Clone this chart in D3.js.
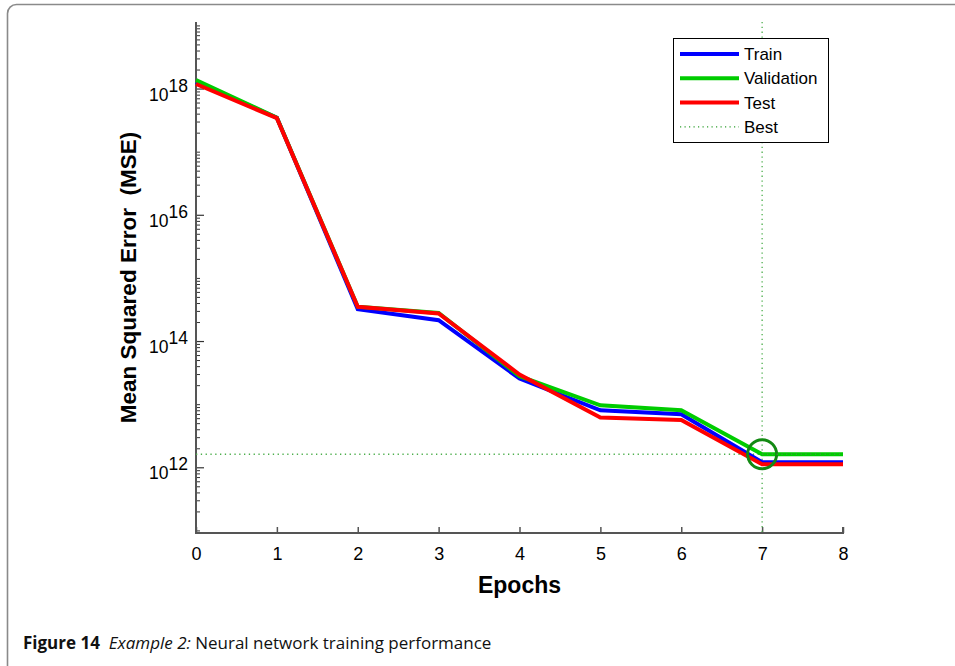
<!DOCTYPE html>
<html>
<head>
<meta charset="utf-8">
<script src="https://cdn.jsdelivr.net/npm/d3@7"></script>
<style>
  html, body { margin: 0; padding: 0; background: #fff; }
  svg { display: block; }
</style>
</head>
<body>
<svg id="chart" width="955" height="666"></svg>
<script>
// values
const epochs = [0, 1, 2, 3, 4, 5, 6, 7, 8];
const trainMSE = [1.27e18, 3.45e17, 3.2e14, 2.14e14, 2.55e13, 8.0e12, 6.9e12, 1.2e12, 1.2e12];
const validationMSE = [1.36e18, 3.45e17, 3.5e14, 2.78e14, 2.78e13, 9.6e12, 8.0e12, 1.61e12, 1.61e12];
const testMSE = [1.18e18, 3.4e17, 3.48e14, 2.74e14, 2.95e13, 6.15e12, 5.6e12, 1.12e12, 1.12e12];
const bestEpoch = 7;
const bestValue = 1.61e12;
const yTickLabels = [12, 14, 16, 18];
const legendNames = ['Train', 'Validation', 'Test', 'Best'];

const svg = d3.select('#chart');
const plotL = 196, plotR = 843, plotT = 22, plotB = 533;

// outer figure frame (rounded, runs off the right and bottom edges)
svg.append('rect')
  .attr('x', 7.5).attr('y', 4.5)
  .attr('width', 990).attr('height', 700)
  .attr('rx', 9)
  .attr('fill', 'none')
  .attr('stroke', '#8a8a8a')
  .attr('stroke-width', 1.6);

const x = d3.scaleLinear().domain([0, 8]).range([plotL, plotR]);
const y = d3.scaleLog()
  .domain([Math.pow(10, 10.959), Math.pow(10, 19.054)])
  .range([plotB, plotT]);

const g = svg.append('g');

// minor log ticks (inward)
const minorVals = [];
for (let e = 10; e <= 19; e++) {
  for (let m = 1; m <= 9; m++) {
    const v = m * Math.pow(10, e);
    if (v >= y.domain()[0] && v <= y.domain()[1] && !(m === 1 && e % 2 === 0)) minorVals.push(v);
  }
}
g.append('g')
  .attr('transform', `translate(${plotL},0)`)
  .call(d3.axisLeft(y).tickValues(minorVals).tickSize(-4).tickFormat(''))
  .call(a => a.select('.domain').remove())
  .selectAll('line').attr('stroke', '#333').attr('stroke-width', 1);

// major ticks at labelled decades
const majorAxis = g.append('g')
  .attr('transform', `translate(${plotL},0)`)
  .call(d3.axisLeft(y).tickValues(yTickLabels.map(p => Math.pow(10, p))).tickSize(-8).tickFormat(''));
majorAxis.select('.domain').remove();
majorAxis.selectAll('line').attr('stroke', '#333').attr('stroke-width', 1.2);

// y tick labels with superscripts
const yLab = g.append('g').attr('font-family', 'Liberation Sans, Arial, sans-serif').attr('font-size', 17.5);
yTickLabels.forEach(p => {
  const t = yLab.append('text')
    .attr('x', plotL - 8)
    .attr('y', y(Math.pow(10, p)) + 12)
    .attr('text-anchor', 'end')
    .attr('fill', '#000');
  t.append('tspan').text('10');
  t.append('tspan').attr('dy', -9).text(p);
});

// x axis ticks (inward)
const xAxis = g.append('g')
  .attr('transform', `translate(0,${plotB})`)
  .call(d3.axisBottom(x).tickValues(epochs).tickSize(-6).tickPadding(14).tickFormat(d3.format('d')));
xAxis.select('.domain').remove();
xAxis.selectAll('line').attr('stroke', '#555').attr('stroke-width', 1.5);
xAxis.selectAll('text')
  .attr('font-family', 'Liberation Sans, Arial, sans-serif')
  .attr('font-size', 18)
  .attr('fill', '#000');

// axis spines (no box)
g.append('path')
  .attr('d', `M${plotL},${plotT}V${plotB}H${plotR}V${plotB - 6}`)
  .attr('fill', 'none')
  .attr('stroke', '#555')
  .attr('stroke-width', 2);

// best markers
g.append('line')
  .attr('x1', x(bestEpoch)).attr('x2', x(bestEpoch))
  .attr('y1', plotT).attr('y2', plotB)
  .attr('stroke', '#4cae4c').attr('stroke-width', 1.3)
  .attr('stroke-dasharray', '1.3,3.5');
g.append('line')
  .attr('x1', plotL).attr('x2', plotR)
  .attr('y1', y(bestValue)).attr('y2', y(bestValue))
  .attr('stroke', '#4cae4c').attr('stroke-width', 1.3)
  .attr('stroke-dasharray', '1.3,3.5');

const line = d3.line().x((d, i) => x(epochs[i])).y(d => y(d));
const series = [
  {values: trainMSE, color: '#0000ff'},
  {values: validationMSE, color: '#00cc00'},
  {values: testMSE, color: '#ff0000'}
];
series.forEach(s => {
  g.append('path')
    .attr('d', line(s.values))
    .attr('fill', 'none')
    .attr('stroke', s.color)
    .attr('stroke-width', 4)
    .attr('stroke-linejoin', 'miter');
});

// best circle drawn over
g.append('circle')
  .attr('cx', x(bestEpoch)).attr('cy', y(bestValue))
  .attr('r', 14.5)
  .attr('fill', 'none')
  .attr('stroke', '#138a13')
  .attr('stroke-width', 3);
// horizontal best dots over the green line too
g.append('line')
  .attr('x1', x(bestEpoch)).attr('x2', plotR)
  .attr('y1', y(bestValue)).attr('y2', y(bestValue))
  .attr('stroke', '#3a9a3a').attr('stroke-width', 1.3)
  .attr('stroke-dasharray', '1.3,3.5');

// legend
const lg = svg.append('g');
lg.append('rect')
  .attr('x', 673.5).attr('y', 38.5)
  .attr('width', 155).attr('height', 104)
  .attr('fill', '#fff')
  .attr('stroke', '#000')
  .attr('stroke-width', 1);
const legendColors = ['#0000ff', '#00cc00', '#ff0000', '#2e9e2e'];
legendNames.forEach((name, i) => {
  const ly = 54 + i * 24.3;
  lg.append('line')
    .attr('x1', 680).attr('x2', 739)
    .attr('y1', ly).attr('y2', ly)
    .attr('stroke', legendColors[i])
    .attr('stroke-width', i === 3 ? 1.2 : 4)
    .attr('stroke-dasharray', i === 3 ? '1.2,3.3' : null);
  lg.append('text')
    .attr('x', 744).attr('y', ly + 6)
    .attr('font-family', 'Liberation Sans, Arial, sans-serif')
    .attr('font-size', 17)
    .attr('fill', '#000')
    .text(name);
});

// axis titles
svg.append('text')
  .attr('x', (plotL + plotR) / 2).attr('y', 593)
  .attr('text-anchor', 'middle')
  .attr('font-family', 'Liberation Sans, Arial, sans-serif')
  .attr('font-weight', 'bold')
  .attr('font-size', 23)
  .text('Epochs');
svg.append('text')
  .attr('transform', `translate(136,${(plotT + plotB) / 2}) rotate(-90)`)
  .attr('text-anchor', 'middle')
  .attr('font-family', 'Liberation Sans, Arial, sans-serif')
  .attr('font-weight', 'bold')
  .attr('font-size', 22.5)
  .attr('xml:space', 'preserve')
  .text('Mean Squared Error  (MSE)');

// caption
const cap = svg.append('text')
  .attr('x', 23).attr('y', 649)
  .attr('font-family', 'Open Sans, Noto Sans, sans-serif')
  .attr('font-size', 17)
  .attr('fill', '#111')
  .attr('xml:space', 'preserve');
cap.append('tspan').attr('font-weight', 'bold').text('Figure 14');
cap.append('tspan').text('  ');
cap.append('tspan').attr('font-style', 'italic').text('Example 2:');
cap.append('tspan').text(' Neural network training performance');
</script>
</body>
</html>
